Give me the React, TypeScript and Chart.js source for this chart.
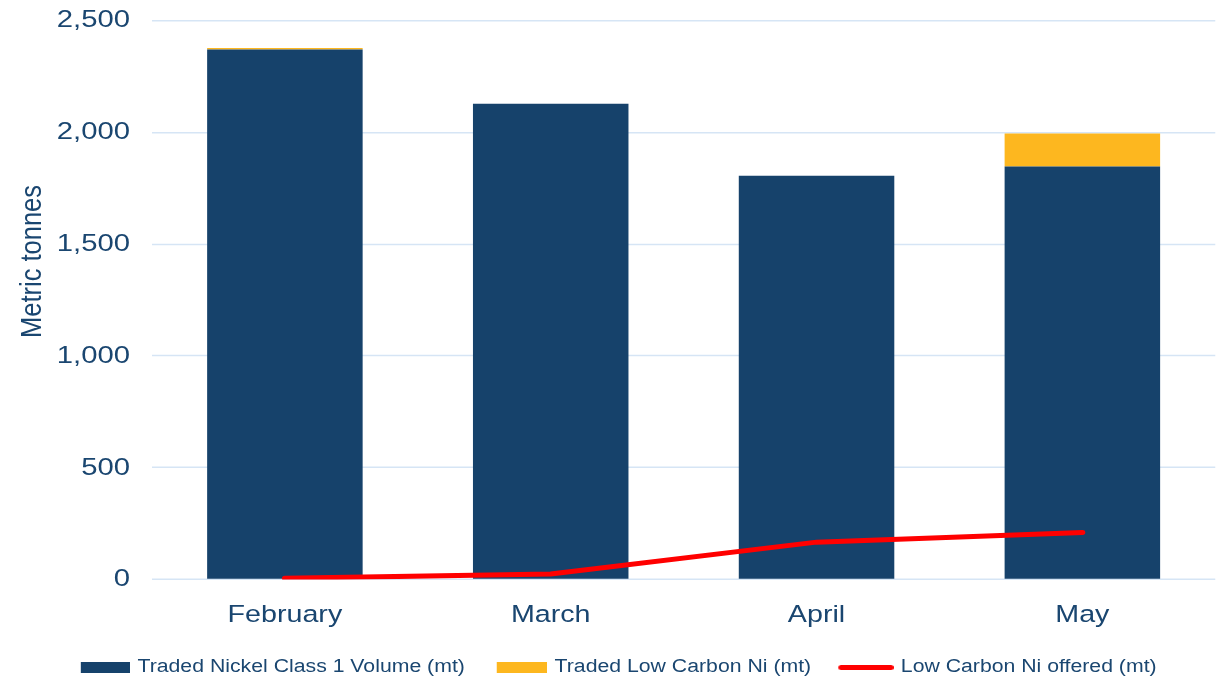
import React, { useEffect, useRef } from "react";
import { Chart, registerables } from "chart.js";

Chart.register(...registerables);

const months = ["February", "March", "April", "May"];
const tradedClass1 = [2370, 2128, 1806, 1847];
const tradedLowCarbon = [7, 0, 0, 148];
const lowCarbonOffered = [5, 25, 167, 210];
const yTicks = [0, 500, 1000, 1500, 2000, 2500];
const yAxisTitle = "Metric tonnes";
const seriesNames = [
  "Traded Nickel Class 1 Volume (mt)",
  "Traded Low Carbon Ni (mt)",
  "Low Carbon Ni offered (mt)",
];

const DARK = "#16426B";
const YELLOW = "#FDB71F";
const RED = "#FF0000";
const TEXT = "#1A4670";
const GRID = "#D6E5F5";
const FONT = "'Liberation Sans', Arial, sans-serif";

// The reference is horizontally stretched: draw in a narrower logical space
// and widen only the x direction of the drawing transform.
const CSS_W = 1212;
const LOGICAL_W = 1027;
const HR = CSS_W / LOGICAL_W;
const CANVAS_H = 720;
const X_AXIS_H = 63;
const PLOT_H = 559;
const PLOT_TOP_PAGE = 12; // inside the root (body margin 8)

function makeSwatch(w: number, markW: number, h: number, color: string, round: boolean) {
  const c = document.createElement("canvas");
  c.width = w;
  c.height = h;
  const ctx = c.getContext("2d")!;
  ctx.fillStyle = color;
  const x0 = w - markW;
  if (round) {
    const r = h / 2;
    ctx.beginPath();
    ctx.moveTo(x0 + r, 0);
    ctx.lineTo(w - r, 0);
    ctx.arc(w - r, r, r, -Math.PI / 2, Math.PI / 2);
    ctx.lineTo(x0 + r, h);
    ctx.arc(x0 + r, r, r, Math.PI / 2, (3 * Math.PI) / 2);
    ctx.fill();
  } else {
    ctx.fillRect(x0, 0, markW, h);
  }
  return c;
}

const yTitlePlugin = {
  id: "yTitleCustom",
  afterDraw(chart: any) {
    const ctx = chart.ctx;
    const ca = chart.chartArea;
    ctx.save();
    ctx.translate(21.2, ca.top + 241);
    ctx.rotate(-Math.PI / 2);
    ctx.font = `25.5px ${FONT}`;
    ctx.fillStyle = TEXT;
    ctx.textAlign = "center";
    ctx.textBaseline = "middle";
    ctx.fillText(yAxisTitle, 0, 0);
    ctx.restore();
  },
};

export default function App() {
  const ref = useRef<HTMLCanvasElement | null>(null);

  useEffect(() => {
    const canvas = ref.current;
    if (!canvas) return;
    // keep vertical scale 1 while widening horizontally
    const ctx2d: any = canvas.getContext("2d");
    const origSet = ctx2d.setTransform.bind(ctx2d);
    ctx2d.setTransform = (a: any, b?: any, c?: any, d?: any, e?: any, f?: any) => {
      if (typeof a === "number") return origSet(a, b, c, 1, e, f);
      return a === undefined ? origSet() : origSet(a);
    };

    const swatches = [
      makeSwatch(57, 42, 11, DARK, false),
      makeSwatch(57, 43, 11, YELLOW, false),
      makeSwatch(57, 47, 5, RED, true),
    ];
    const chart = new Chart(canvas, {
      type: "bar",
      data: {
        labels: months,
        datasets: [
          {
            type: "bar",
            label: seriesNames[0],
            data: tradedClass1,
            backgroundColor: DARK,
            stack: "bars",
            barPercentage: 0.585,
            categoryPercentage: 1,
            order: 2,
          },
          {
            type: "bar",
            label: seriesNames[1],
            data: tradedLowCarbon,
            backgroundColor: YELLOW,
            stack: "bars",
            barPercentage: 0.585,
            categoryPercentage: 1,
            order: 2,
          },
          {
            type: "line",
            label: seriesNames[2],
            data: lowCarbonOffered,
            borderColor: RED,
            backgroundColor: RED,
            borderWidth: 5,
            borderCapStyle: "round",
            pointRadius: 0,
            tension: 0,
            stack: "line",
            order: 0,
          } as any,
        ],
      },
      options: {
        animation: false,
        responsive: false,
        maintainAspectRatio: false,
        devicePixelRatio: HR,
        layout: { padding: { left: 0, right: 4, top: 0, bottom: 0 } },
        scales: {
          x: {
            stacked: true,
            grid: { display: false, drawTicks: false },
            border: { display: false },
            ticks: {
              color: TEXT,
              font: { family: FONT, size: 24.3 },
              padding: 21,
            },
            afterFit: (s: any) => {
              s.height = X_AXIS_H;
            },
          },
          y: {
            stacked: true,
            min: 0,
            max: 2500,
            afterBuildTicks: (s: any) => {
              s.ticks = yTicks.map((v) => ({ value: v }));
            },
            grid: { color: GRID, lineWidth: 1.5, drawTicks: false },
            border: { display: false },
            ticks: {
              color: TEXT,
              font: { family: FONT, size: 24.8 },
              padding: 18.6,
              callback: (v: any) => Number(v).toLocaleString("en-US"),
            },
            afterFit: (s: any) => {
              s.width = 122;
            },
          },
        },
        plugins: {
          tooltip: { enabled: false },
          legend: {
            position: "bottom",
            labels: {
              color: TEXT,
              font: { family: FONT, size: 18 },
              usePointStyle: true,
              pointStyleWidth: 51,
              padding: 16,
              generateLabels: (ch: any) =>
                ch.data.datasets.map((d: any, i: number) => ({
                  text: d.label,
                  fillStyle: i === 2 ? RED : d.backgroundColor,
                  strokeStyle: "transparent",
                  lineWidth: 0,
                  pointStyle: swatches[i],
                  hidden: false,
                  datasetIndex: i,
                  fontColor: TEXT,
                })),
            },
          },
        },
      },
      plugins: [yTitlePlugin],
    });

    // place the plot area where the reference has it
    const t = chart.chartArea.top;
    const lgH = (chart.legend as any).height;
    const pb = Math.max(0, CANVAS_H - lgH - X_AXIS_H - PLOT_H - t);
    (chart.options.layout as any).padding = { left: 0, right: 4, top: 0, bottom: pb };
    chart.update();
    canvas.style.top = `${PLOT_TOP_PAGE - chart.chartArea.top}px`;
    canvas.style.height = `${canvas.height}px`;

    return () => chart.destroy();
  }, []);

  return (
    <div style={{ position: "relative", width: CSS_W, height: 675, overflow: "hidden" }}>
      <canvas
        ref={ref}
        width={LOGICAL_W}
        height={CANVAS_H}
        style={{
          position: "absolute",
          left: 0,
          top: 0,
          width: `${CSS_W}px`,
          height: `${CANVAS_H}px`,
          display: "block",
        }}
      />
    </div>
  );
}
